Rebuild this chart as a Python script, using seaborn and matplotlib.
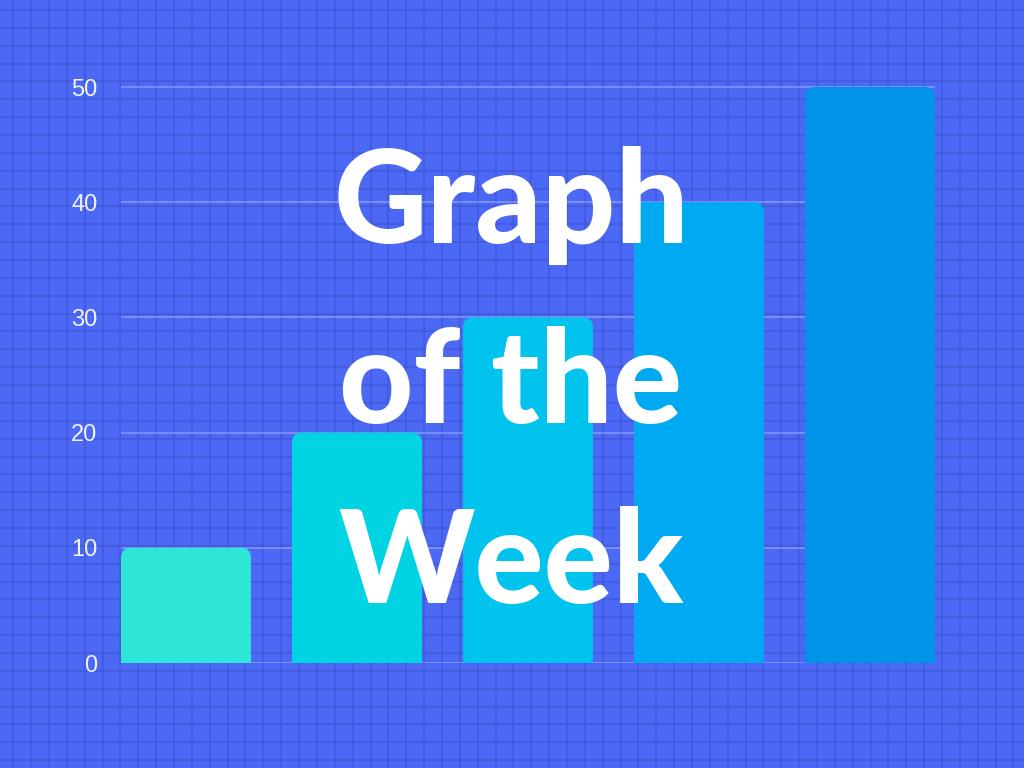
import numpy as np
import pandas as pd
import matplotlib
matplotlib.use("Agg")
import matplotlib.pyplot as plt
import seaborn as sns
from matplotlib.patches import FancyBboxPatch

# data
categories = ["A", "B", "C", "D", "E"]
values = [10, 20, 30, 40, 50]
bar_colors = ["#2de6d6", "#00d4e2", "#00c3ee", "#00aaf2", "#0093e8"]
yticks = [0, 10, 20, 30, 40, 50]
title_lines = ["Graph", "of the", "Week"]

BG = "#4c69f6"
GRID_DARK = "#4257d8"

sns.set_theme(style="white")
plt.rcParams["font.family"] = ["Liberation Sans", "DejaVu Sans"]

fig = plt.figure(figsize=(10.24, 7.68), dpi=100, facecolor=BG)

# background graph paper
bg = fig.add_axes([0, 0, 1, 1], zorder=0)
bg.set_xlim(0, 1024)
bg.set_ylim(768, 0)
bg.set_facecolor(BG)
bg.axis("off")
step = 17.86
for xv in np.arange(13.3, 1024, step):
    bg.axvline(xv, color=GRID_DARK, lw=1.5, alpha=0.7)
for yv in np.arange(10.0, 768, step):
    bg.axhline(yv, color=GRID_DARK, lw=1.5, alpha=0.7)

# main chart
ax = fig.add_axes([121 / 1024, 105 / 768, 814 / 1024, 599 / 768], zorder=1)
ax.set_facecolor("none")
df = pd.DataFrame({"cat": categories, "val": values})
sns.barplot(data=df, x="cat", y="val", hue="cat", palette=bar_colors,
            width=0.76, legend=False, ax=ax, saturation=1)
ax.set_xlim(-0.38, len(categories) - 1 + 0.38)
ax.set_ylim(0, 52)
ax.set_yticks(yticks)
ax.set_xticks([])
ax.set_xlabel("")
ax.set_ylabel("")
for s in ax.spines.values():
    s.set_visible(False)
ax.tick_params(axis="y", length=0, pad=17, labelsize=17, labelcolor="white")
for t in ax.get_yticklabels():
    t.set_alpha(0.92)
for yv in yticks:
    ax.axhline(yv, color="white", lw=1.3, alpha=0.28, zorder=0.5)

# rounded top corners
fig.canvas.draw()
px_x = ax.transData.transform((1, 0))[0] - ax.transData.transform((0, 0))[0]
px_y = ax.transData.transform((0, 1))[1] - ax.transData.transform((0, 0))[1]
radius_px = 10
rx = radius_px / px_x
aspect = px_x / px_y
bars = list(ax.patches)
for p in bars:
    x0, w, h = p.get_x(), p.get_width(), p.get_height()
    fc = p.get_facecolor()
    p.remove()
    rb = FancyBboxPatch((x0, -3), w, h + 3,
                        boxstyle=f"round,pad=0,rounding_size={rx}",
                        mutation_aspect=aspect, facecolor=fc, edgecolor="none",
                        zorder=2)
    ax.add_patch(rb)

# big title
baselines = [243, 423, 603]
for line, yb in zip(title_lines, baselines):
    fig.text(0.499, 1 - yb / 768, line, ha="center", va="baseline",
             color="white", fontsize=93, fontweight=900,
             family=["Lato", "DejaVu Sans"], zorder=5)

fig.savefig("out.png", dpi=100, facecolor=BG)
